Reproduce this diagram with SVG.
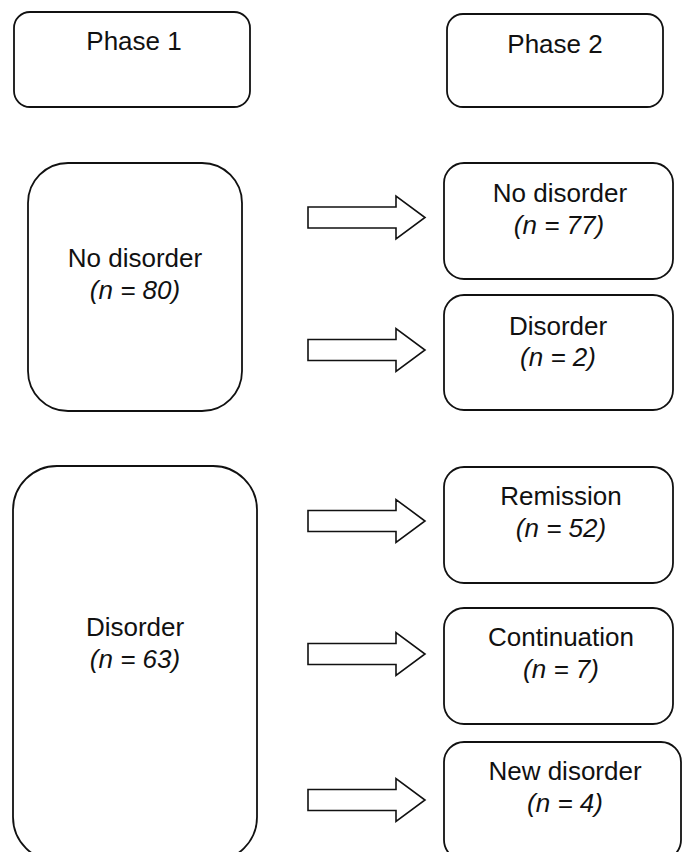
<svg xmlns="http://www.w3.org/2000/svg" width="683" height="852" viewBox="0 0 683 852">
<style>
.box{fill:#fff;stroke:#111;stroke-width:1.8}
.arr{fill:#fff;stroke:#111;stroke-width:1.6;stroke-linejoin:miter}
text{font-family:"Liberation Sans",Arial,sans-serif;font-size:26px;fill:#111;text-anchor:middle}
.n{font-style:italic}
</style>
<rect width="683" height="852" fill="#fff"/>
<g id="phase1"><rect class="box" x="14" y="12" width="236" height="95" rx="16"/><text x="134" y="50">Phase 1</text></g>
<g id="phase2"><rect class="box" x="447" y="14" width="216" height="93" rx="16"/><text x="555" y="53">Phase 2</text></g>
<g id="p1-nodisorder"><rect class="box" x="28" y="163" width="214" height="248" rx="40"/><text x="135" y="267">No disorder</text><text class="n" x="135" y="299">(n = 80)</text></g>
<g id="p1-disorder"><rect class="box" x="13" y="466" width="244" height="395" rx="44"/><text x="135" y="636">Disorder</text><text class="n" x="135" y="668">(n = 63)</text></g>
<g id="p2-nodisorder"><rect class="box" x="444" y="163" width="229" height="116" rx="20"/><text x="560" y="202">No disorder</text><text class="n" x="559" y="234">(n = 77)</text></g>
<g id="p2-disorder"><rect class="box" x="444" y="295" width="229" height="115" rx="20"/><text x="558" y="335">Disorder</text><text class="n" x="558" y="366">(n = 2)</text></g>
<g id="p2-remission"><rect class="box" x="444" y="467" width="229" height="116" rx="20"/><text x="561" y="505">Remission</text><text class="n" x="561" y="537">(n = 52)</text></g>
<g id="p2-continuation"><rect class="box" x="444" y="608" width="229" height="116" rx="20"/><text x="561" y="646">Continuation</text><text class="n" x="561" y="678">(n = 7)</text></g>
<g id="p2-newdisorder"><rect class="box" x="444" y="742" width="237" height="118" rx="20"/><text x="565" y="780">New disorder</text><text class="n" x="565" y="812">(n = 4)</text></g>
<g id="connectors">
<path class="arr" d="M308,207 H396 V196 L425,217.5 L396,239 V228 H308 Z"/>
<path class="arr" d="M308,339.5 H396 V328.5 L425,350 L396,371.5 V360.5 H308 Z"/>
<path class="arr" d="M308,510.5 H396 V499.5 L425,521 L396,542.5 V531.5 H308 Z"/>
<path class="arr" d="M308,643.5 H396 V632.5 L425,654 L396,675.5 V664.5 H308 Z"/>
<path class="arr" d="M308,789.5 H396 V778.5 L425,800 L396,821.5 V810.5 H308 Z"/>
</g>
</svg>
